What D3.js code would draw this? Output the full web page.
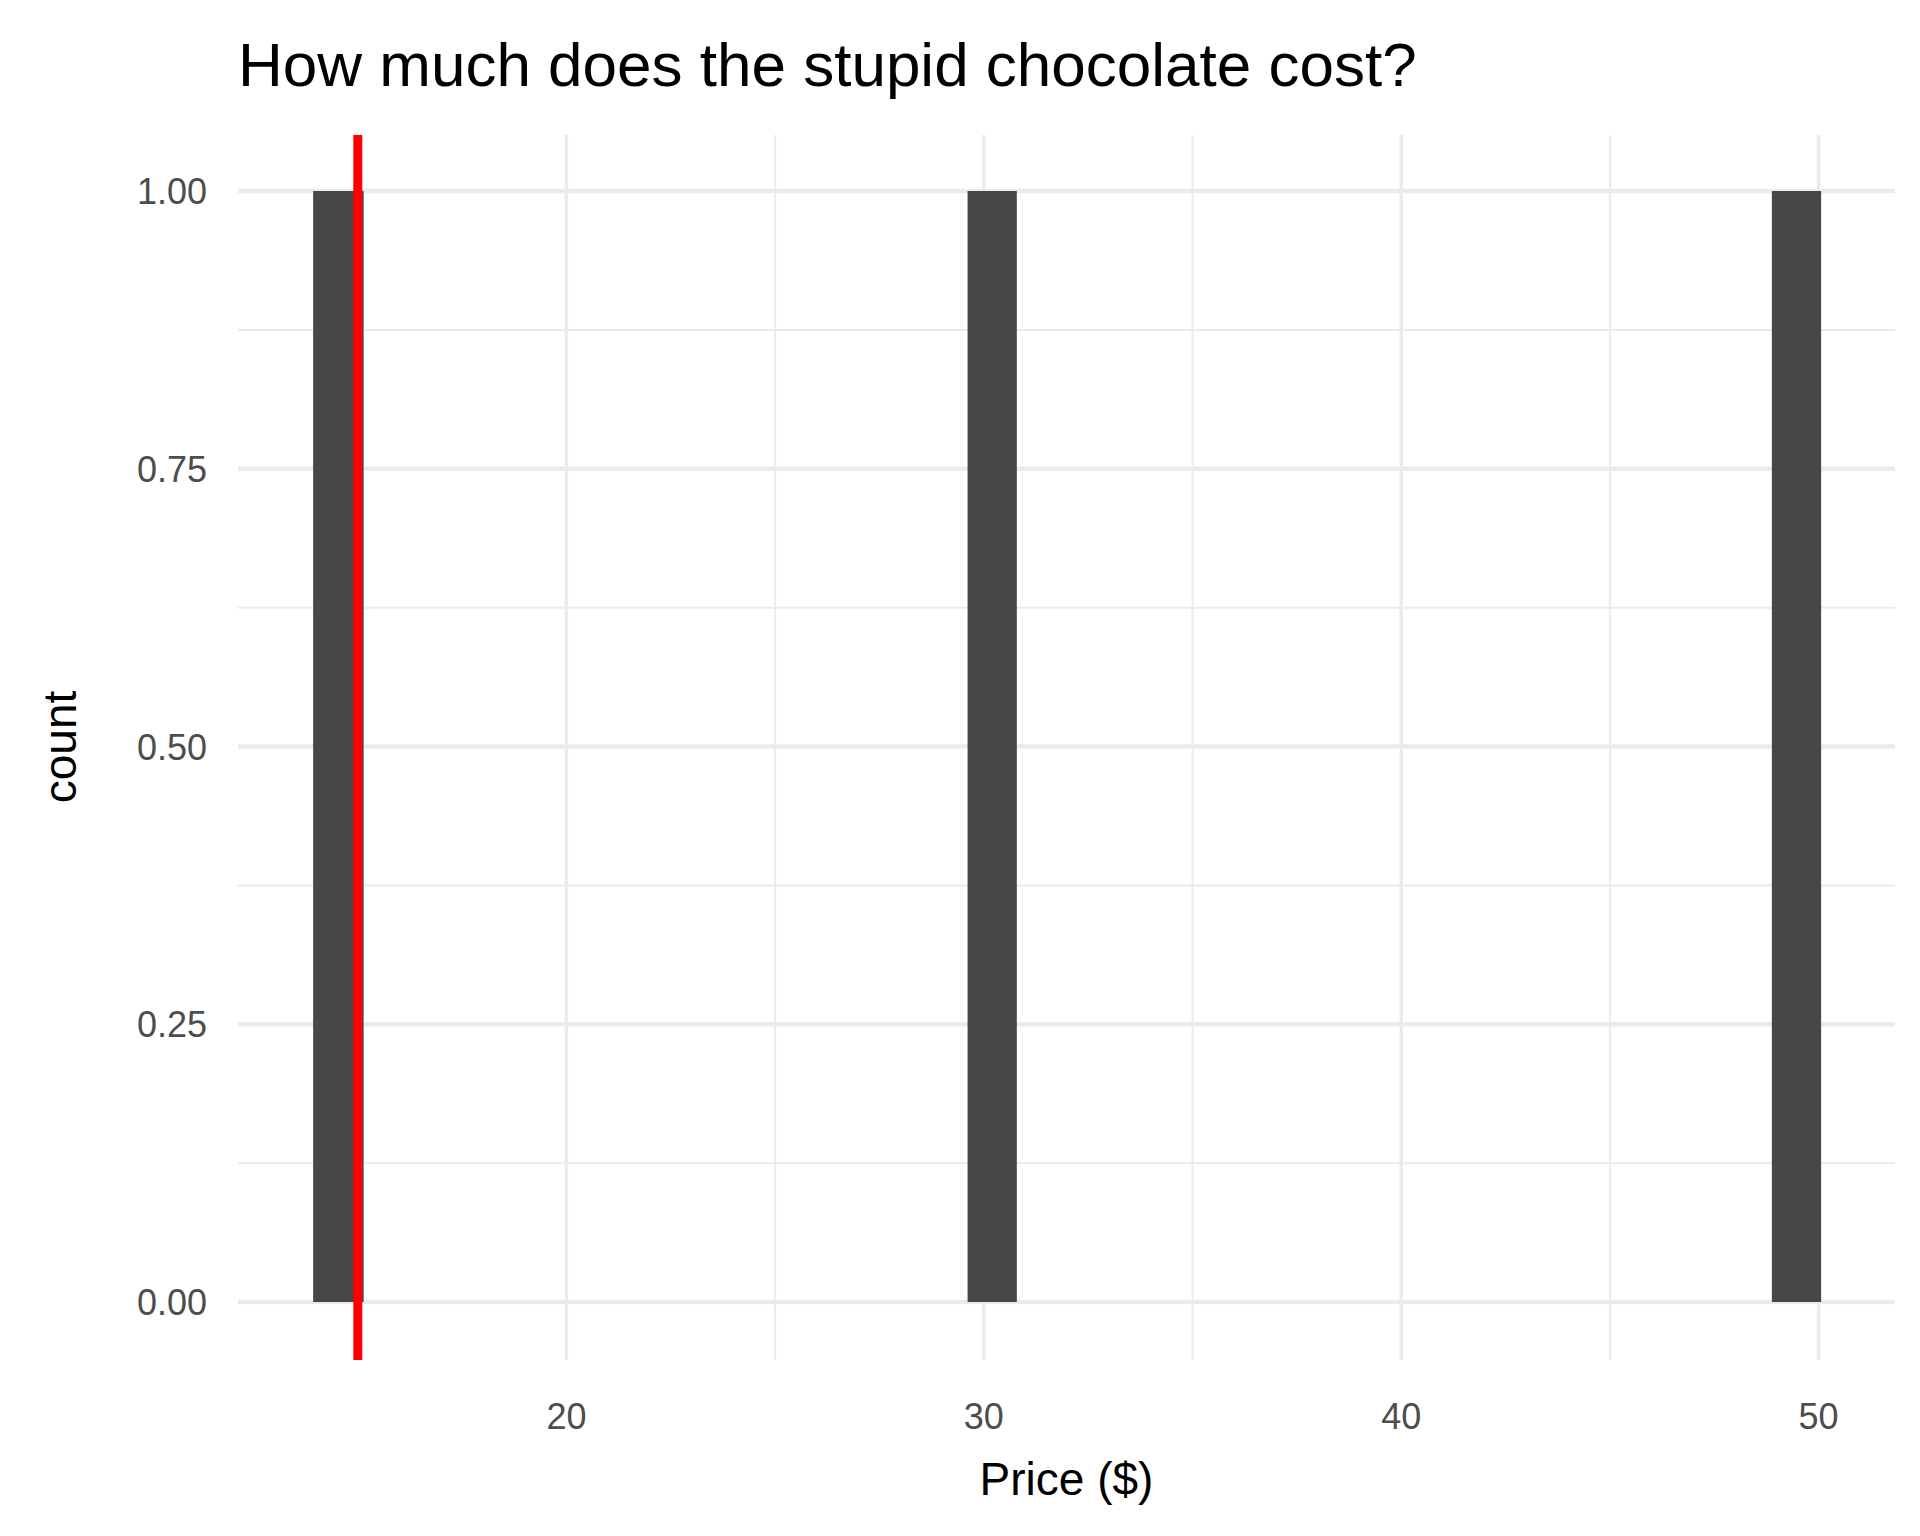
<!DOCTYPE html>
<html><head><meta charset="utf-8">
<script src="https://cdn.jsdelivr.net/npm/d3@7"></script>
<style>body{margin:0;background:#fff}text{font-family:"Liberation Sans",Arial,sans-serif}</style>
</head><body>
<svg id="chart" width="1920" height="1536"></svg>
<script>
// histogram bins
const binStart = [13.93, 29.61, 48.88];
const binEnd = [15.14, 30.79, 50.06];
const binCount = [1, 1, 1];
const markerPrice = 15;
const xTicks = [20, 30, 40, 50];
const xMinor = [15, 25, 35, 45];
const yTicks = [0, 0.25, 0.5, 0.75, 1];
const yMinor = [0.125, 0.375, 0.625, 0.875];

const svg = d3.select('#chart');
const panelLeft = 238, panelRight = 1895, panelTop = 135, panelBottom = 1360;
const xs = d3.scaleLinear().domain([12.13, 51.83]).range([panelLeft, panelRight]);
const ys = d3.scaleLinear().domain([0, 1]).range([1302, 191]);

const grid = svg.append('g');
grid.selectAll('.vminor').data(xMinor).enter().append('line')
    .attr('x1', d => xs(d)).attr('x2', d => xs(d)).attr('y1', panelTop).attr('y2', panelBottom)
    .attr('stroke', '#ebebeb').attr('stroke-width', 2);
grid.selectAll('.hminor').data(yMinor).enter().append('line')
    .attr('y1', d => ys(d)).attr('y2', d => ys(d)).attr('x1', panelLeft).attr('x2', panelRight)
    .attr('stroke', '#ebebeb').attr('stroke-width', 2);
grid.selectAll('.vmajor').data(xTicks).enter().append('line')
    .attr('x1', d => xs(d)).attr('x2', d => xs(d)).attr('y1', panelTop).attr('y2', panelBottom)
    .attr('stroke', '#ebebeb').attr('stroke-width', 3.5);
grid.selectAll('.hmajor').data(yTicks).enter().append('line')
    .attr('y1', d => ys(d)).attr('y2', d => ys(d)).attr('x1', panelLeft).attr('x2', panelRight)
    .attr('stroke', '#ebebeb').attr('stroke-width', 4.5);

svg.append('g').selectAll('rect').data(binCount).enter().append('rect')
    .attr('x', (d, i) => xs(binStart[i]))
    .attr('width', (d, i) => xs(binEnd[i]) - xs(binStart[i]))
    .attr('y', d => ys(d)).attr('height', d => ys(0) - ys(d))
    .attr('fill', '#474747');

svg.append('line').attr('x1', xs(markerPrice)).attr('x2', xs(markerPrice))
    .attr('y1', panelTop).attr('y2', panelBottom).attr('stroke', '#ff0000').attr('stroke-width', 9);

svg.append('g').selectAll('text').data(xTicks).enter().append('text')
    .attr('x', d => xs(d)).attr('y', 1429).attr('text-anchor', 'middle')
    .attr('font-size', 36).attr('fill', '#4d4d4d').text(d => d);
svg.append('g').selectAll('text').data(yTicks).enter().append('text')
    .attr('x', 207).attr('y', d => ys(d) + 13).attr('text-anchor', 'end')
    .attr('font-size', 36).attr('fill', '#4d4d4d').text(d => d3.format('.2f')(d));

svg.append('text').attr('x', (panelLeft + panelRight) / 2).attr('y', 1495).attr('text-anchor', 'middle')
    .attr('font-size', 46).text('Price ($)');
svg.append('text').attr('transform', 'translate(76,747) rotate(-90)').attr('text-anchor', 'middle')
    .attr('font-size', 46).text('count');
svg.append('text').attr('x', 238).attr('y', 86).attr('font-size', 62).text('How much does the stupid chocolate cost?');
</script>
</body></html>
